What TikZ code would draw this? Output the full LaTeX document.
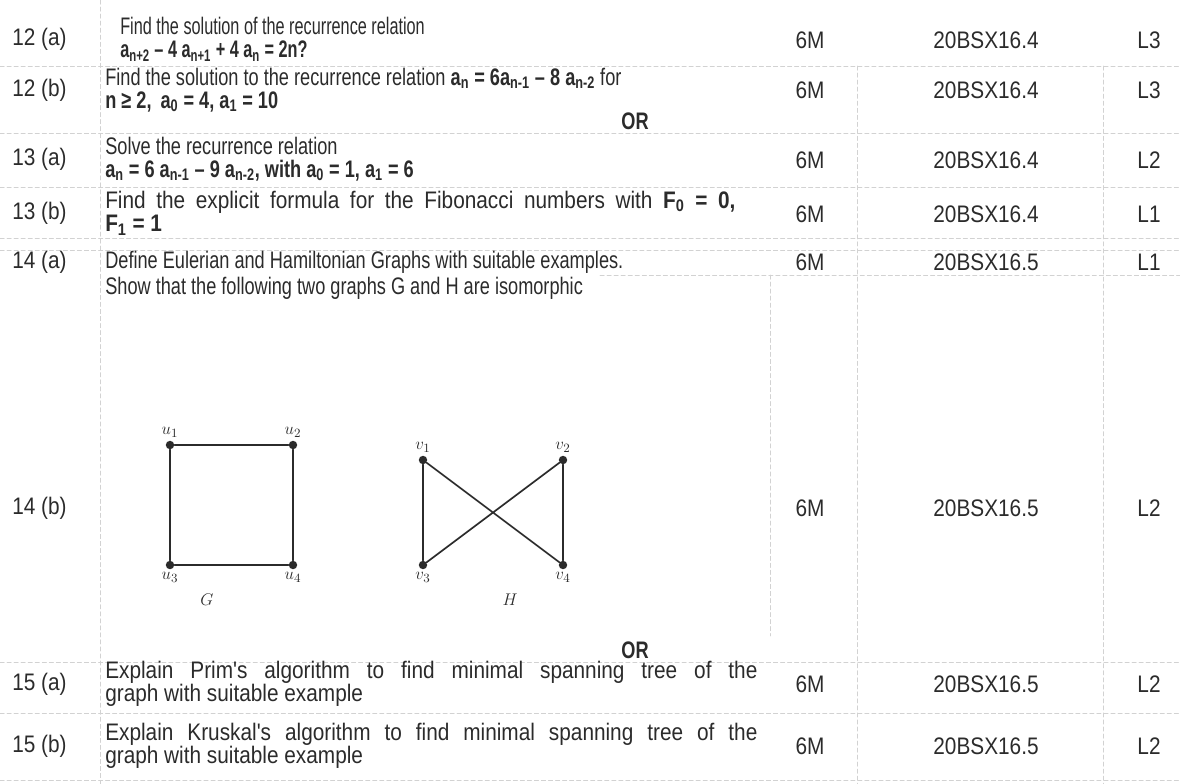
\documentclass[tikz,border=0pt]{standalone}
\usepackage{fontspec}
\setmainfont{Liberation Sans}[FakeStretch=0.76]
\newfontfamily\widefont{Liberation Sans}[FakeStretch=0.87]
\newfontfamily\narrowfont{Liberation Sans}[FakeStretch=0.68]
\definecolor{ink}{HTML}{2B2B2B}
\definecolor{rule}{HTML}{D2D2D2}
\newcommand{\lo}[1]{\textsubscript{#1}}
\begin{document}
\begin{tikzpicture}[x=0.025cm, y=-0.025cm, font=\fontsize{17}{16.4}\selectfont, line join=round, line cap=round]
\tikzset{
  qno/.style={text=ink, anchor=west, inner sep=0pt, font=\fontsize{17}{16.4}\selectfont\widefont},
  qtxt/.style={text=ink, anchor=west, inner sep=0pt, align=left},
  qjust/.style={text=ink, anchor=west, inner sep=0pt, align=justify, text width=#1, font=\fontsize{17}{16.4}\selectfont\widefont},
  cell/.style={text=ink, inner sep=0pt, font=\fontsize{17}{16.4}\selectfont\widefont},
  ruleline/.style={rule, dash pattern=on 3pt off 2pt, line width=0.5pt},
  vtx/.style={circle, fill=ink, inner sep=0pt, minimum size=6pt},
  vlab/.style={text=ink, font=\fontsize{13}{14}\selectfont, inner sep=2pt},
  gline/.style={ink, line width=1.2pt}
}
\useasboundingbox (0,0) rectangle (1180,784);
% table rules
\foreach \yy in {66,133,187,238,250,662,713,780}
  \draw[ruleline] (0,\yy)--(1180,\yy);
\draw[ruleline] (600,275)--(1180,275);
\draw[ruleline] (100,0)--(100,784);
\draw[ruleline] (770,275)--(770,636);
\draw[ruleline] (857,66)--(857,784);
\draw[ruleline] (1103,66)--(1103,784);
% question numbers
\node[qno] (q12a) at (12,39) {12 (a)};
\node[qno] (q12b) at (12,90) {12 (b)};
\node[qno] (q13a) at (12,159) {13 (a)};
\node[qno] (q13b) at (12,213) {13 (b)};
\node[qno] (q14a) at (12,262) {14 (a)};
\node[qno] (q14b) at (12,508) {14 (b)};
\node[qno] (q15a) at (12,684) {15 (a)};
\node[qno] (q15b) at (12,746) {15 (b)};
% questions
\node[qtxt, font=\fontsize{17}{16.4}\selectfont\narrowfont] (t12a) at (120,39) {Find the solution of the recurrence relation\\
  \textbf{a\lo{n+2} – 4 a\lo{n+1} + 4 a\lo{n} = 2n?}};
\node[qtxt] (t12b) at (105,90) {Find the solution to the recurrence relation \textbf{a\lo{n} = 6a\lo{n-1} – 8 a\lo{n-2}} for\\
  \textbf{n ≥ 2,\, a\lo{0} = 4, a\lo{1} = 10}};
\node[cell, font=\fontsize{17}{16.4}\selectfont\bfseries] (or1) at (635,121) {OR};
\node[qtxt] (t13a) at (105,159) {Solve the recurrence relation\\
  \textbf{a\lo{n} = 6 a\lo{n-1} – 9 a\lo{n-2}, with a\lo{0} = 1, a\lo{1} = 6}};
\node[qjust=15.75cm] (t13b) at (105,213) {Find the explicit formula for the Fibonacci numbers with \textbf{F\lo{0} = 0,}\linebreak
  \textbf{F\lo{1} = 1}};
\node[qtxt] (t14a) at (105,262) {Define Eulerian and Hamiltonian Graphs with suitable examples.};
\node[qtxt] (t14b) at (105,288) {Show that the following two graphs G and H are isomorphic};
\node[cell, font=\fontsize{17}{16.4}\selectfont\bfseries] (or2) at (635,650) {OR};
\node[qjust=16.3cm] (t15a) at (105,684) {Explain Prim's algorithm to find minimal spanning tree of the\linebreak graph with suitable example};
\node[qjust=16.3cm] (t15b) at (105,746) {Explain Kruskal's algorithm to find minimal spanning tree of the\linebreak graph with suitable example};
% marks, outcome, level
\foreach \yy/\co/\lv in {40/4/L3, 90/4/L3, 160/4/L2, 214/4/L1, 262/5/L1, 508/5/L2, 684/5/L2, 746/5/L2}{
  \node[cell] at (810,\yy) {6M};
  \node[cell] at (986,\yy) {20BSX16.\co};
  \node[cell] at (1149,\yy) {\lv};
}
% graph G
\node[vtx, label={[vlab]above:$u_1$}] (u1) at (170,445) {};
\node[vtx, label={[vlab]above:$u_2$}] (u2) at (293,445) {};
\node[vtx, label={[vlab]below:$u_3$}] (u3) at (170,565) {};
\node[vtx, label={[vlab]below:$u_4$}] (u4) at (293,565) {};
\node[vlab] (gG) at (207,600) {$G$};
\draw[gline] (u1)--(u2)--(u4)--(u3)--(u1);
% graph H
\node[vtx, label={[vlab]above:$v_1$}] (v1) at (423,460) {};
\node[vtx, label={[vlab]above:$v_2$}] (v2) at (563,460) {};
\node[vtx, label={[vlab]below:$v_3$}] (v3) at (423,565) {};
\node[vtx, label={[vlab]below:$v_4$}] (v4) at (563,565) {};
\node[vlab] (gH) at (510,600) {$H$};
\draw[gline] (v1)--(v3)--(v2)--(v4)--(v1);
\end{tikzpicture}
\end{document}
